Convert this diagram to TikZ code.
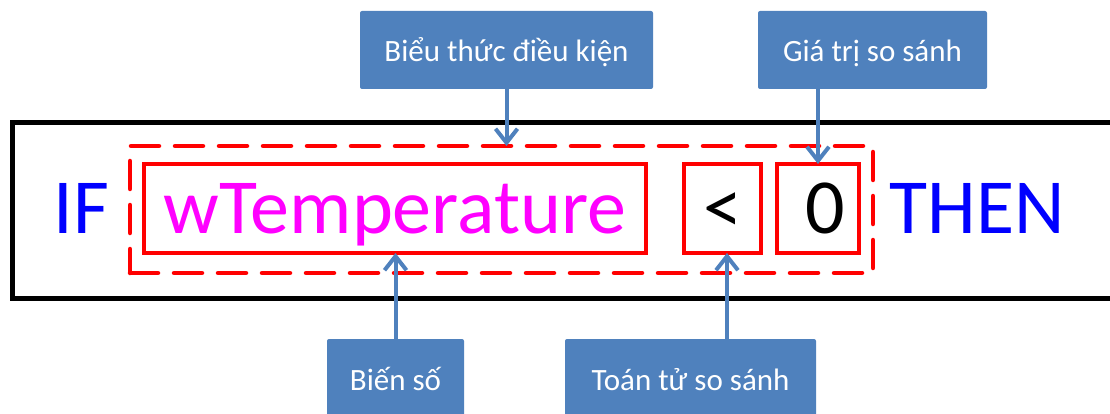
\documentclass[tikz,border=0pt]{standalone}
\usepackage{fontspec}
\setmainfont{Carlito}
\usetikzlibrary{arrows.meta}
\definecolor{labelblue}{HTML}{4F81BD}
\definecolor{kwblue}{HTML}{0000FF}
\definecolor{varpink}{HTML}{FF00FF}
\definecolor{boxred}{HTML}{FF0000}

\begin{document}
\begin{tikzpicture}[x=1pt,y=-1pt,
  every node/.style={inner sep=0pt, outer sep=0pt},
  code/.style={font=\fontsize{78}{90}\selectfont, text height=60pt, text depth=11pt},
  part/.style={code, draw=boxred, line width=3.5pt, minimum height=89pt},
  tag/.style={fill=labelblue, rounded corners=2pt, text=white,
    font=\fontsize{31}{36}\selectfont, text height=30pt, text depth=6pt,
    minimum height=78pt},
  pointer/.style={draw=labelblue, line width=4pt,
    -{Straight Barb[length=14pt,width=22pt]}}
]
\useasboundingbox (0,0) rectangle (1110,414);
\begin{scope}
\clip (0,0) rectangle (1110,414);

% statement frame, running off the right edge
\node[draw=black, line width=5pt, minimum width=1118pt, minimum height=175pt]
  (stmt) at (571,210.5) {};

% keywords
\node[code, text=kwblue, anchor=base] (kwif) at (81.5,233) {IF};
\node[code, text=kwblue, anchor=base] (kwthen) at (977.5,233) {THEN};

% condition expression and its parts
\node[draw=boxred, line width=4.5pt, dash pattern=on 28pt off 16pt, line cap=round,
  minimum width=743pt, minimum height=127pt] (cond) at (501.5,209.5) {};
\node[part, text=varpink, minimum width=502pt] (tvar) at (395,208.5) {wTemperature};
\node[part, minimum width=77pt] (lt) at (722.5,208.5) {<};
\node[part, minimum width=82pt] (zero) at (818,208.5) {\hspace{14pt}0};

% labels
\node[tag, minimum width=293pt] (condlbl) at (506.5,50) {Biểu thức điều kiện};
\node[tag, minimum width=229pt] (vallbl) at (872.5,50) {Giá trị so sánh};
\node[tag, minimum width=137pt] (varlbl) at (395.5,378) {Biến số};
\node[tag, minimum width=251pt] (oplbl) at (690.5,378) {Toán tử so sánh};

% pointers
\draw[pointer] (condlbl.south) -- (condlbl.south |- cond.north);
\draw[pointer] (zero.north |- vallbl.south) -- (zero.north);
\draw[pointer] (varlbl.north) -- (varlbl.north |- tvar.south);
\draw[pointer] ([xshift=4.5pt]lt.south |- oplbl.north) -- ([xshift=4.5pt]lt.south);
\end{scope}
\end{tikzpicture}
\end{document}
